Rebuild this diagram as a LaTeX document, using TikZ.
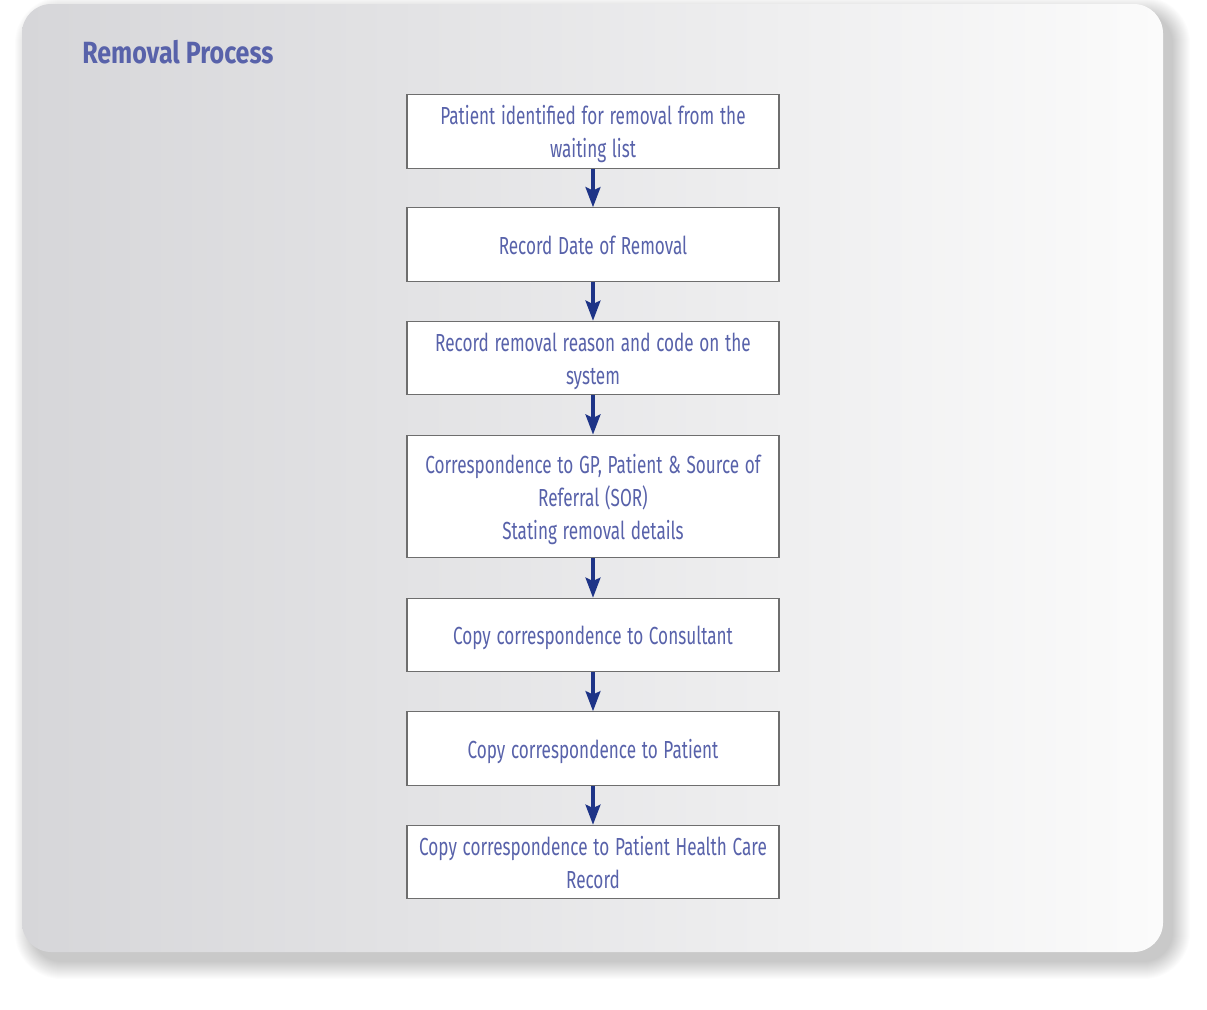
\documentclass[tikz,border=0pt]{standalone}
\usepackage{fontspec}
\setmainfont{Fira Sans}[BoldFont={Fira Sans Bold}]
\usetikzlibrary{arrows.meta}
\definecolor{txtblue}{RGB}{88,98,170}
\definecolor{arrblue}{RGB}{30,52,135}
\definecolor{boxline}{RGB}{110,110,110}
\definecolor{panelL}{RGB}{214,214,217}
\definecolor{panelR}{RGB}{251,251,251}
\newcommand\nar[1]{\scalebox{0.695}[1]{#1}}
\tikzset{
  stepbox/.style={draw=boxline, line width=0.8pt, fill=white, minimum width=279pt, minimum height=55pt,
    text width=270pt, align=center, inner sep=2pt, text=txtblue, font=\fontsize{18.5}{24.8}\selectfont,
    execute at begin node={\rule{0pt}{19.5pt}}, execute at end node={\rule[-4.6pt]{0pt}{4.6pt}}},
  flowarrow/.style={draw=arrblue, line width=3pt, -{Stealth[length=15pt,width=11pt,inset=2.5pt]}}
}
\begin{document}
\begin{tikzpicture}[x=0.75pt,y=-0.75pt]
\useasboundingbox (0,0) rectangle (1207,1010);
\fill[white] (0,0) rectangle (1207,1010);
\foreach \e in {0,...,17}{
  \fill[black, opacity=0.012, rounded corners=22pt+\e*0.75pt] (32-\e,14-\e) rectangle (1173+\e,962+\e);
}
\shade[left color=panelL, right color=panelR, rounded corners=22pt]
  (22,4) rectangle (1163,952);
\node[anchor=west, text=txtblue, font=\fontsize{23}{27}\selectfont\bfseries, inner sep=0pt] (title) at (82,52) {\scalebox{0.816}[1]{Removal Process}};
\node[stepbox] (b1) at (593,131.5) {\nar{Patient identified for removal from the}\\\nar{waiting list}};
\node[stepbox] (b2) at (593,244.5) {\nar{Record Date of Removal}};
\node[stepbox] (b3) at (593,358) {\nar{Record removal reason and code on the}\\\nar{system}};
\node[stepbox, minimum height=92pt] (b4) at (593,496.5) {\nar{Correspondence to GP, Patient \& Source of}\\\nar{Referral (SOR)}\\\nar{Stating removal details}};
\node[stepbox] (b5) at (593,635) {\nar{Copy correspondence to Consultant}};
\node[stepbox] (b6) at (593,748.5) {\nar{Copy correspondence to Patient}};
\node[stepbox] (b7) at (593,862) {\nar{Copy correspondence to Patient Health Care}\\\nar{Record}};
\draw[flowarrow] (b1) -- (b2);
\draw[flowarrow] (b2) -- (b3);
\draw[flowarrow] (b3) -- (b4);
\draw[flowarrow] (b4) -- (b5);
\draw[flowarrow] (b5) -- (b6);
\draw[flowarrow] (b6) -- (b7);
\end{tikzpicture}
\end{document}
